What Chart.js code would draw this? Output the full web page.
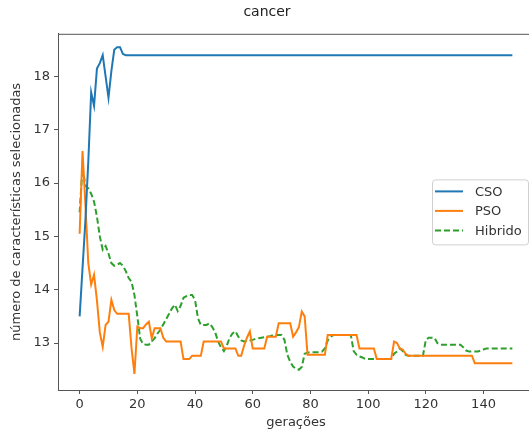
<!DOCTYPE html>
<html>
<head>
<meta charset="utf-8">
<script src="https://cdn.jsdelivr.net/npm/chart.js"></script>
<style>
  html, body { margin: 0; padding: 0; background: #fff; overflow: hidden; }
  #wrap { width: 529px; height: 430px; overflow: hidden; }
</style>
</head>
<body>
<div id="wrap"><canvas id="plot" width="540" height="430"></canvas></div>
<script>
// generations 0..150
const generations = Array.from({ length: 151 }, (_, i) => i);

const csoValues = [
  13.5, 14.4, 15.3, 16.4, 17.7, 17.45, 18.15, 18.25, 18.4, 18.0, 17.6, 18.1, 18.5, 18.55, 18.55, 18.42,
  18.4, 18.4, 18.4, 18.4, 18.4, 18.4, 18.4, 18.4, 18.4, 18.4, 18.4, 18.4, 18.4, 18.4, 18.4,
  18.4, 18.4, 18.4, 18.4, 18.4, 18.4, 18.4, 18.4, 18.4, 18.4, 18.4, 18.4, 18.4, 18.4, 18.4,
  18.4, 18.4, 18.4, 18.4, 18.4, 18.4, 18.4, 18.4, 18.4, 18.4, 18.4, 18.4, 18.4, 18.4, 18.4,
  18.4, 18.4, 18.4, 18.4, 18.4, 18.4, 18.4, 18.4, 18.4, 18.4, 18.4, 18.4, 18.4, 18.4, 18.4,
  18.4, 18.4, 18.4, 18.4, 18.4, 18.4, 18.4, 18.4, 18.4, 18.4, 18.4, 18.4, 18.4, 18.4, 18.4,
  18.4, 18.4, 18.4, 18.4, 18.4, 18.4, 18.4, 18.4, 18.4, 18.4, 18.4, 18.4, 18.4, 18.4, 18.4,
  18.4, 18.4, 18.4, 18.4, 18.4, 18.4, 18.4, 18.4, 18.4, 18.4, 18.4, 18.4, 18.4, 18.4, 18.4,
  18.4, 18.4, 18.4, 18.4, 18.4, 18.4, 18.4, 18.4, 18.4, 18.4, 18.4, 18.4, 18.4, 18.4, 18.4,
  18.4, 18.4, 18.4, 18.4, 18.4, 18.4, 18.4, 18.4, 18.4, 18.4, 18.4, 18.4, 18.4, 18.4, 18.4
];

const psoValues = [
  15.05, 16.6, 15.6, 14.5, 14.1, 14.28, 13.8, 13.2, 12.93, 13.34,
  13.4, 13.81, 13.62, 13.55, 13.55, 13.55, 13.55, 13.55, 12.9, 12.42,
  13.31, 13.28, 13.28, 13.35, 13.4, 13.09, 13.28, 13.28, 13.28, 13.1,
  13.03, 13.03, 13.03, 13.03, 13.03, 13.03, 12.7, 12.7, 12.7, 12.76,
  12.76, 12.76, 12.76, 13.03, 13.03, 13.03, 13.03, 13.03, 13.03, 13.03,
  12.9, 12.9, 12.9, 12.9, 12.9, 12.76, 12.76, 12.95, 13.1, 13.22,
  12.9, 12.9, 12.9, 12.9, 12.9, 13.12, 13.12, 13.12, 13.12, 13.37,
  13.37, 13.37, 13.37, 13.37, 13.12, 13.2, 13.3, 13.59, 13.5, 12.78,
  12.78, 12.78, 12.78, 12.78, 12.78, 12.78, 13.15, 13.15, 13.15, 13.15,
  13.15, 13.15, 13.15, 13.15, 13.15, 13.15, 13.15, 12.9, 12.9, 12.9,
  12.9, 12.9, 12.9, 12.7, 12.7, 12.7, 12.7, 12.7, 12.7, 13.03,
  13.0, 12.9, 12.88, 12.8, 12.76, 12.76, 12.76, 12.76, 12.76, 12.76,
  12.76, 12.76, 12.76, 12.76, 12.76, 12.76, 12.76, 12.76, 12.76, 12.76,
  12.76, 12.76, 12.76, 12.76, 12.76, 12.76, 12.76, 12.62, 12.62, 12.62,
  12.62, 12.62, 12.62, 12.62, 12.62, 12.62, 12.62, 12.62, 12.62, 12.62,
  12.62
];

const hibridoValues = [
  15.45, 16.3, 15.95, 15.9, 15.8, 15.65, 15.37, 15.0, 14.75, 14.82,
  14.68, 14.5, 14.45, 14.47, 14.5, 14.45, 14.35, 14.22, 14.15, 13.9,
  13.5, 13.08, 12.98, 12.97, 12.97, 13.03, 13.09, 13.18, 13.25, 13.35,
  13.45, 13.55, 13.65, 13.72, 13.6, 13.7, 13.85, 13.88, 13.9, 13.9,
  13.81, 13.47, 13.34, 13.34, 13.34, 13.37, 13.3, 13.2, 13.03, 12.92,
  12.85, 12.95, 13.1, 13.18, 13.22, 13.12, 13.05, 13.03, 13.04, 13.05,
  13.06, 13.08, 13.09, 13.1, 13.11, 13.12, 13.13, 13.15, 13.15, 13.15,
  13.15, 13.06, 12.78, 12.65, 12.56, 12.52, 12.5, 12.55, 12.8, 12.82,
  12.83, 12.83, 12.83, 12.83, 12.84, 12.9, 13.05, 13.12, 13.15, 13.15,
  13.15, 13.15, 13.15, 13.15, 13.15, 12.85, 12.78, 12.75, 12.73, 12.7,
  12.7, 12.7, 12.7, 12.7, 12.7, 12.7, 12.7, 12.7, 12.7, 12.8,
  12.84, 12.9, 12.85, 12.78, 12.76, 12.76, 12.76, 12.76, 12.76, 12.76,
  13.06, 13.1, 13.1, 13.1, 13.0, 12.97, 12.97, 12.97, 12.97, 12.97,
  12.97, 12.97, 12.97, 12.92, 12.86, 12.84, 12.84, 12.84, 12.84, 12.86,
  12.88, 12.9, 12.9, 12.9, 12.9, 12.9, 12.9, 12.9, 12.9, 12.9,
  12.9
];

const xTicks = [0, 20, 40, 60, 80, 100, 120, 140];
const yTicks = [13, 14, 15, 16, 17, 18];

const axisColor = "#555";
const textColor = "#333";

Chart.defaults.font.family = "'DejaVu Sans', sans-serif";
Chart.defaults.font.size = 13;
Chart.defaults.color = textColor;

// box round the plot and the legend inside it, like matplotlib
const frameAndLegend = {
  id: "frameAndLegend",
  afterDatasetsDraw(chart) {
    const { ctx, chartArea } = chart;
    ctx.save();
    ctx.strokeStyle = axisColor;
    ctx.lineWidth = 1;
    ctx.beginPath();
    ctx.moveTo(chartArea.left, chartArea.top + 0.5);
    ctx.lineTo(chartArea.right, chartArea.top + 0.5);
    ctx.lineTo(chartArea.right - 0.5, chartArea.bottom);
    ctx.stroke();

    const w = 96, h = 65;
    const x = chartArea.right - 6 - w;
    const y = (chartArea.top + chartArea.bottom) / 2 - h / 2;
    ctx.fillStyle = "rgba(255,255,255,0.8)";
    ctx.strokeStyle = "#d0d0d0";
    ctx.beginPath();
    ctx.roundRect(x + 0.5, y + 0.5, w, h, 3);
    ctx.fill();
    ctx.stroke();

    ctx.font = "13px 'DejaVu Sans'";
    ctx.textBaseline = "middle";
    chart.data.datasets.forEach((ds, i) => {
      const ry = y + 12 + i * 19.5;
      ctx.strokeStyle = ds.borderColor;
      ctx.lineWidth = ds.borderWidth;
      ctx.setLineDash(ds.borderDash || []);
      ctx.beginPath();
      ctx.moveTo(x + 3, ry);
      ctx.lineTo(x + 31, ry);
      ctx.stroke();
      ctx.setLineDash([]);
      ctx.fillStyle = textColor;
      ctx.fillText(ds.label, x + 43, ry + 1);
    });
    ctx.restore();
  }
};

new Chart("plot", {
  type: "line",
  data: {
    labels: generations,
    datasets: [
      { label: "CSO", data: csoValues, borderColor: "#1f77b4", borderWidth: 2, pointRadius: 0 },
      { label: "PSO", data: psoValues, borderColor: "#ff7f0e", borderWidth: 2, pointRadius: 0 },
      { label: "Hibrido", data: hibridoValues, borderColor: "#2ca02c", borderWidth: 2, borderDash: [6, 3], pointRadius: 0 }
    ]
  },
  options: {
    responsive: false,
    animation: false,
    layout: { padding: { left: 0, right: 6, top: 0, bottom: 0 } },
    plugins: {
      legend: { display: false },
      tooltip: { enabled: false },
      title: {
        display: true,
        text: "cancer",
        color: "#222",
        font: { size: 14, weight: "normal" },
        padding: { top: 4, bottom: 13 }
      }
    },
    scales: {
      x: {
        type: "linear",
        min: -7.5,
        max: 157.5,
        afterBuildTicks: (axis) => { axis.ticks = xTicks.map(v => ({ value: v })); },
        afterFit: (axis) => { axis.height = 40; },
        grid: { drawOnChartArea: false, tickLength: 4, color: axisColor },
        border: { color: axisColor },
        ticks: { padding: 3, maxRotation: 0 },
        title: { display: true, text: "gerações", padding: { top: 0, bottom: 0 } }
      },
      y: {
        min: 12.12,
        max: 18.8,
        afterBuildTicks: (axis) => { axis.ticks = yTicks.map(v => ({ value: v })); },
        afterFit: (axis) => { axis.width = 58; },
        grid: { drawOnChartArea: false, tickLength: 4, color: axisColor },
        border: { color: axisColor },
        ticks: { padding: 4 },
        title: { display: true, text: "número de características selecionadas", padding: { top: 9, bottom: 0 } }
      }
    }
  },
  plugins: [frameAndLegend]
});
</script>
</body>
</html>
